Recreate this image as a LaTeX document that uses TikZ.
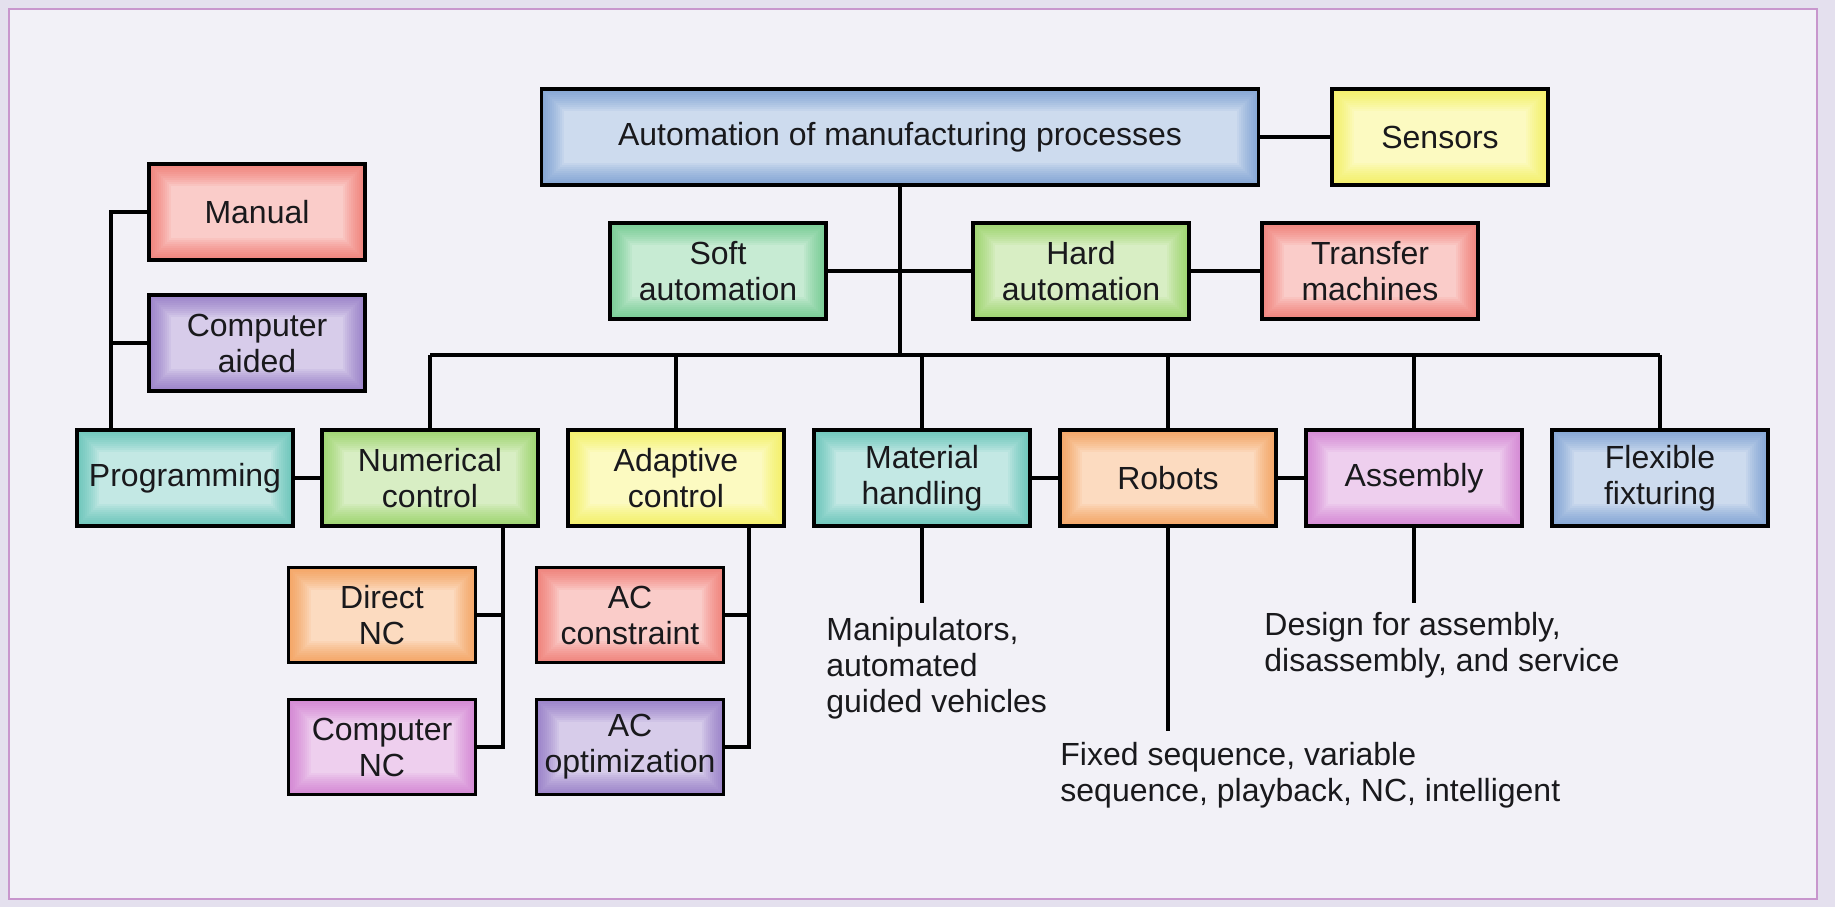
\documentclass[tikz,border=0pt]{standalone}
\usepackage{fontspec}
\setmainfont{Liberation Sans}
\usetikzlibrary{calc}

% box colours (saturated edge tone; the centre is a pale tint of it)
\definecolor{cblue}{RGB}{88,135,200}
\definecolor{cyellow}{RGB}{245,240,50}
\definecolor{csoft}{RGB}{70,190,110}
\definecolor{chard}{RGB}{125,200,60}
\definecolor{cred}{RGB}{240,85,75}
\definecolor{cpurple}{RGB}{120,85,185}
\definecolor{cteal}{RGB}{55,180,165}
\definecolor{corange}{RGB}{245,135,45}
\definecolor{cmag}{RGB}{200,95,200}
\definecolor{pagebg}{RGB}{228,224,238}
\definecolor{panelbg}{RGB}{242,241,247}
\definecolor{panelline}{RGB}{200,150,205}
\definecolor{ink}{RGB}{25,25,28}

\tikzset{
  lbl/.style={font=\fontsize{16pt}{18pt}\selectfont, text=ink},
  box/.style={rectangle, draw=black, line width=1.9pt, fill=#1!30!white,
    minimum width=108pt, minimum height=48pt, inner sep=2pt, align=center,
    lbl,
    path picture={
      % soft inner glow: stacked translucent strokes along the border
      \foreach \w in {2,4,...,22}{
        \draw[#1, opacity=0.075, line width=\w pt]
          (path picture bounding box.south west) rectangle
          (path picture bounding box.north east);
      }
    }},
  smallbox/.style={box=#1, minimum width=93.5pt, minimum height=47.5pt},
  wide/.style={box=#1, minimum width=358.5pt},
  link/.style={draw=black, line width=1.75pt},
  note/.style={lbl, anchor=north west, inner sep=0pt, align=left},
}

\begin{document}
\begin{tikzpicture}[x=0.5pt, y=-0.5pt]
  % page and panel
  \fill[pagebg] (0,0) rectangle (1835,907);
  \draw[panelline, fill=panelbg, line width=1pt] (9,9) rectangle (1817,899);
  \useasboundingbox (0,0) rectangle (1835,907);

  % top level
  \node[wide=cblue] (top) at (900,137) {Automation of manufacturing processes};
  \node[box=cyellow] (sens) at (1440,137) {Sensors};
  \node[box=csoft] (soft) at (718,271) {Soft\\automation};
  \node[box=chard] (hard) at (1081,271) {Hard\\automation};
  \node[box=cred] (trans) at (1370,271) {Transfer\\machines};

  % programming branch
  \node[box=cred] (man) at (257,212) {Manual};
  \node[box=cpurple] (cad) at (257,343) {Computer\\aided};

  % second row
  \node[box=cteal] (prog) at (185,478) {Programming};
  \node[box=chard] (nc) at (430,478) {Numerical\\control};
  \node[box=cyellow] (ac) at (676,478) {Adaptive\\control};
  \node[box=cteal] (mat) at (922,478) {Material\\handling};
  \node[box=corange] (rob) at (1168,478) {Robots};
  \node[box=cmag] (asm) at (1414,478) {Assembly};
  \node[box=cblue] (flex) at (1660,478) {Flexible\\fixturing};

  % third row
  \node[smallbox=corange] (dnc) at (382,615) {Direct\\NC};
  \node[smallbox=cmag] (cnc) at (382,747) {Computer\\NC};
  \node[smallbox=cred] (acc) at (630,615) {AC\\constraint};
  \node[smallbox=cpurple] (aco) at (630,747) {AC\\optimization};

  % notes
  \node[note] (matnote) at (826,617) {Manipulators,\\automated\\guided vehicles};
  \node[note] (robnote) at (1060,742) {Fixed sequence, variable\\sequence, playback, NC, intelligent};
  \node[note] (asmnote) at (1264,612) {Design for assembly,\\disassembly, and service};

  % junction coordinates
  \coordinate (bus) at (900,355);
  \coordinate (pj) at (111,0);
  \coordinate (ncj) at (503,0);
  \coordinate (acj) at (749,0);
  \coordinate (matend) at (922,603);
  \coordinate (robend) at (1168,731);
  \coordinate (asmend) at (1414,603);

  % connectors
  \draw[link] (top.east) -- (sens.west);
  \draw[link] (top.south) -- (bus);
  \draw[link] (soft.east) -- (hard.west);
  \draw[link] (hard.east) -- (trans.west);
  \draw[link] (nc.north |- bus) -- (flex.north |- bus);
  \foreach \n in {nc,ac,mat,rob,asm,flex}{
    \draw[link] (\n.north) -- (\n.north |- bus);
  }
  \draw[link] (man.west) -| (prog.north -| pj);
  \draw[link] (cad.west) -- (cad.west -| pj);
  \draw[link] (prog.east) -- (nc.west);
  \draw[link] (nc.south -| ncj) |- (cnc.east);
  \draw[link] (dnc.east) -- (dnc.east -| ncj);
  \draw[link] (ac.south -| acj) |- (aco.east);
  \draw[link] (acc.east) -- (acc.east -| acj);
  \draw[link] (mat.east) -- (rob.west);
  \draw[link] (rob.east) -- (asm.west);
  \draw[link] (mat.south) -- (matend);
  \draw[link] (rob.south) -- (robend);
  \draw[link] (asm.south) -- (asmend);
\end{tikzpicture}
\end{document}
